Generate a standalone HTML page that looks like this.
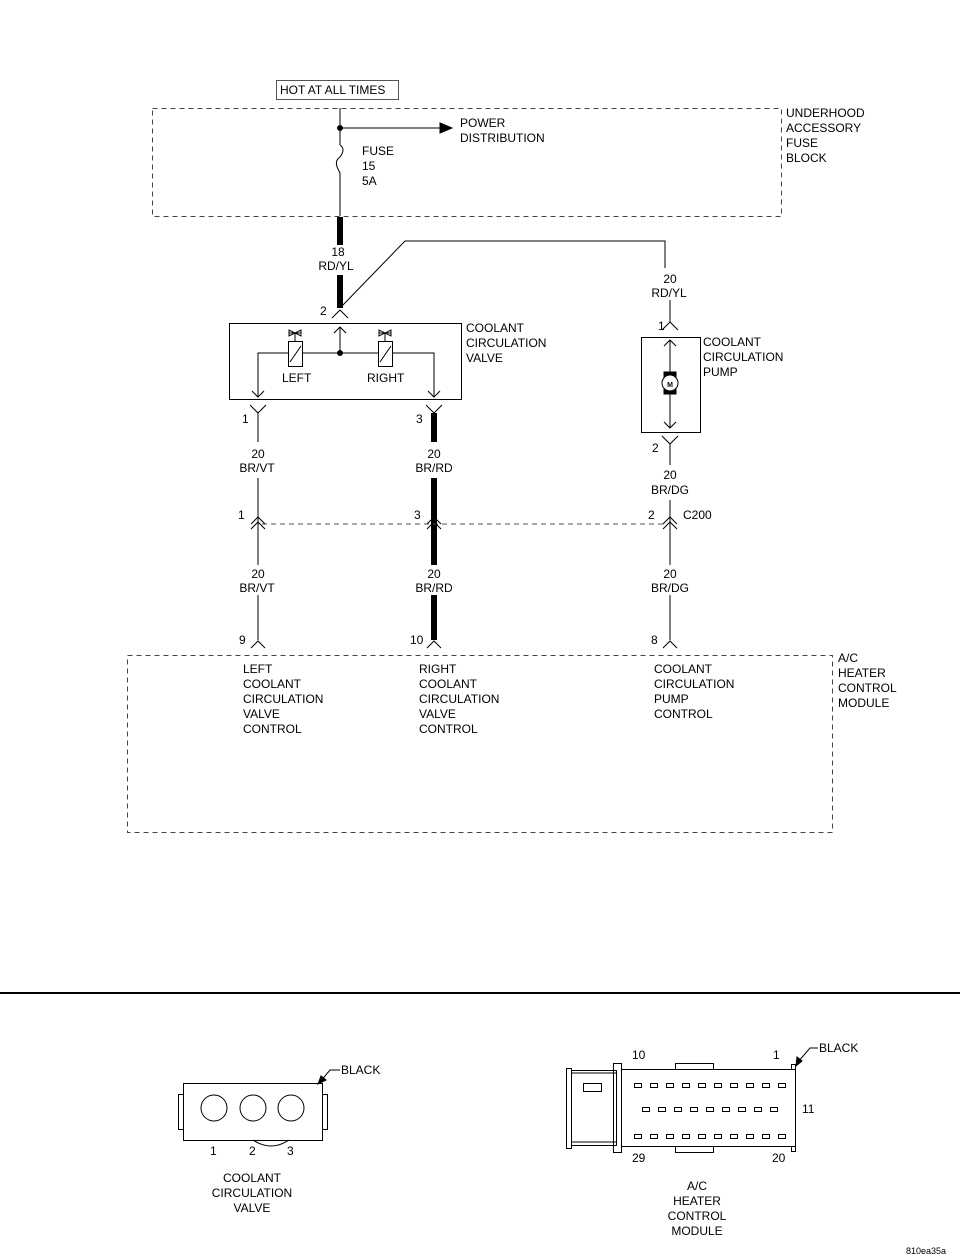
<!DOCTYPE html>
<html><head><meta charset="utf-8"><style>
html,body{margin:0;padding:0;background:#fff}
svg{display:block}
text{font-family:"Liberation Sans",sans-serif;font-size:12px;fill:#000}
</style></head><body>
<svg width="960" height="1258" viewBox="0 0 960 1258" xmlns="http://www.w3.org/2000/svg">
<g fill="none" stroke="#000" stroke-width="1">
<!-- top -->
<rect x="276.5" y="80.5" width="122" height="19" stroke="#555"/>
<rect x="152.5" y="108.5" width="629" height="108" stroke-dasharray="5,4" stroke="#444"/>
<line x1="340" y1="108" x2="340" y2="145"/>
<path d="M340 145 q6 4 0 12 q-6 4 -2 12 l2 4 v43"/>
<line x1="340" y1="128" x2="440" y2="128"/>
<polygon points="440,123 452,128 440,133" fill="#000"/>
<circle cx="340" cy="128" r="2.5" fill="#000"/>
<!-- thick wire 18 -->
<line x1="340" y1="217" x2="340" y2="245" stroke-width="6"/>
<line x1="340" y1="275" x2="340" y2="308" stroke-width="6"/>
<path d="M332 318 L340 310 L348 318"/>
<!-- diagonal to pump -->
<polyline points="342,306 405,241 665,241 665,268"/>
<line x1="670" y1="300" x2="670" y2="322"/>
<path d="M662 330 L670 322 L678 330"/>
<!-- valve box -->
<rect x="229.5" y="323.5" width="232" height="76"/>
<line x1="340" y1="327" x2="340" y2="353"/>
<path d="M334 333 L340 327 L346 333"/>
<circle cx="340" cy="353" r="2.5" fill="#000"/>
<polyline points="258,397 258,353 434,353 434,397"/>
<path d="M252 391 L258 397 L264 391 M428 391 L434 397 L440 391"/>
<rect x="288.5" y="341.5" width="14" height="25" fill="#fff"/>
<line x1="290" y1="362" x2="301" y2="346"/>
<rect x="378.5" y="341.5" width="14" height="25" fill="#fff"/>
<line x1="380" y1="362" x2="391" y2="346"/>
<path d="M289 330 l0 6 l12 -6 l0 6 z M289 333 h12 M295 333 v8"/>
<path d="M379 330 l0 6 l12 -6 l0 6 z M379 333 h12 M385 333 v8"/>
<!-- bottom valve connectors -->
<path d="M250 405 L258 413 L266 405 M426 405 L434 413 L442 405"/>
<line x1="258" y1="413" x2="258" y2="442"/>
<line x1="434" y1="413" x2="434" y2="442" stroke-width="6"/>
<line x1="258" y1="478" x2="258" y2="640"/>
<line x1="434" y1="478" x2="434" y2="640" stroke-width="6"/>
<!-- pump -->
<rect x="641.5" y="337.5" width="59" height="95"/>
<line x1="670" y1="340" x2="670" y2="428"/>
<path d="M664 346 L670 340 L676 346 M664 422 L670 428 L676 422"/>
<rect x="664" y="372" width="12" height="22" fill="#000"/>
<circle cx="670" cy="383" r="8" fill="#fff"/>
<path d="M662 436 L670 444 L678 436"/>
<line x1="670" y1="444" x2="670" y2="465"/>
<line x1="670" y1="500" x2="670" y2="640"/>
<!-- C200 -->
<line x1="262" y1="524" x2="666" y2="524" stroke-dasharray="5,4" stroke="#555"/>
<path d="M251 524 L258 517 L265 524 M251 529 L258 522 L265 529"/>
<path d="M427 524 L434 517 L441 524 M427 529 L434 522 L441 529"/>
<path d="M663 524 L670 517 L677 524 M663 529 L670 522 L677 529"/>
<rect x="252" y="565" width="12" height="30" fill="#fff" stroke="none"/>
<rect x="428" y="565" width="12" height="30" fill="#fff" stroke="none"/>
<rect x="664" y="565" width="12" height="30" fill="#fff" stroke="none"/>
<!-- pins bottom -->
<path d="M251 648 L258 641 L265 648 M427 648 L434 641 L441 648 M663 648 L670 641 L677 648"/>
<rect x="127.5" y="655.5" width="705" height="177" stroke-dasharray="5,4" stroke="#444"/>
<line x1="0" y1="993" x2="960" y2="993" stroke-width="2"/>
<!-- valve connector -->
<rect x="183.5" y="1083.5" width="139" height="57"/>
<rect x="178.5" y="1094.5" width="5" height="35"/>
<rect x="322.5" y="1094.5" width="5" height="35"/>
<circle cx="214" cy="1108" r="13"/>
<circle cx="253" cy="1108" r="13"/>
<circle cx="291" cy="1108" r="13"/>
<path d="M253 1140 q18 12 36 0"/>
<path d="M340 1070 h-10 l-10 12"/>
<polygon points="318,1084 321,1076 326,1080" fill="#000"/>
<!-- module connector -->
<rect x="566.5" y="1068.5" width="5" height="80"/>
<rect x="571.5" y="1070.5" width="45" height="75"/>
<line x1="571" y1="1073" x2="616" y2="1073"/>
<line x1="571" y1="1142" x2="616" y2="1142"/>
<rect x="583.5" y="1083.5" width="18" height="8"/>
<rect x="613.5" y="1063.5" width="8" height="89"/>
<rect x="621.5" y="1069.5" width="174" height="77"/>
<rect x="675.5" y="1063.5" width="38" height="6"/>
<rect x="675.5" y="1146.5" width="38" height="6"/>
<rect x="791.5" y="1064.5" width="4" height="5"/>
<rect x="791.5" y="1146.5" width="4" height="5"/>
<path d="M818 1048 h-8 l-12 14"/>
<polygon points="796,1066 797,1057 802,1061" fill="#000"/>
</g>
<g fill="none" stroke="#000" stroke-width="1">
<rect x="634.5" y="1083.5" width="7" height="4"/><rect x="650.5" y="1083.5" width="7" height="4"/><rect x="666.5" y="1083.5" width="7" height="4"/><rect x="682.5" y="1083.5" width="7" height="4"/><rect x="698.5" y="1083.5" width="7" height="4"/><rect x="714.5" y="1083.5" width="7" height="4"/><rect x="730.5" y="1083.5" width="7" height="4"/><rect x="746.5" y="1083.5" width="7" height="4"/><rect x="762.5" y="1083.5" width="7" height="4"/><rect x="778.5" y="1083.5" width="7" height="4"/>
<rect x="642.5" y="1107.5" width="7" height="4"/><rect x="658.5" y="1107.5" width="7" height="4"/><rect x="674.5" y="1107.5" width="7" height="4"/><rect x="690.5" y="1107.5" width="7" height="4"/><rect x="706.5" y="1107.5" width="7" height="4"/><rect x="722.5" y="1107.5" width="7" height="4"/><rect x="738.5" y="1107.5" width="7" height="4"/><rect x="754.5" y="1107.5" width="7" height="4"/><rect x="770.5" y="1107.5" width="7" height="4"/>
<rect x="634.5" y="1134.5" width="7" height="4"/><rect x="650.5" y="1134.5" width="7" height="4"/><rect x="666.5" y="1134.5" width="7" height="4"/><rect x="682.5" y="1134.5" width="7" height="4"/><rect x="698.5" y="1134.5" width="7" height="4"/><rect x="714.5" y="1134.5" width="7" height="4"/><rect x="730.5" y="1134.5" width="7" height="4"/><rect x="746.5" y="1134.5" width="7" height="4"/><rect x="762.5" y="1134.5" width="7" height="4"/><rect x="778.5" y="1134.5" width="7" height="4"/>
</g>
<text x="670" y="387" font-size="7" text-anchor="middle" style="font-size:7px;font-weight:bold">M</text>
<text x="280" y="94">HOT AT ALL TIMES</text>
<text x="460" y="127">POWER</text><text x="460" y="142">DISTRIBUTION</text>
<text x="362" y="155">FUSE</text><text x="362" y="170">15</text><text x="362" y="185">5A</text>
<text x="786" y="117">UNDERHOOD</text><text x="786" y="132">ACCESSORY</text><text x="786" y="147">FUSE</text><text x="786" y="162">BLOCK</text>
<g text-anchor="middle">
<text x="338" y="256">18</text><text x="336" y="270">RD/YL</text>
<text x="670" y="283">20</text><text x="669" y="297">RD/YL</text>
<text x="258" y="458">20</text><text x="257" y="472">BR/VT</text>
<text x="434" y="458">20</text><text x="434" y="472">BR/RD</text>
<text x="670" y="479">20</text><text x="670" y="494">BR/DG</text>
<text x="258" y="578">20</text><text x="257" y="592">BR/VT</text>
<text x="434" y="578">20</text><text x="434" y="592">BR/RD</text>
<text x="670" y="578">20</text><text x="670" y="592">BR/DG</text>
</g>
<text x="320" y="315">2</text>
<text x="658" y="330">1</text>
<text x="652" y="452">2</text>
<text x="242" y="423">1</text><text x="416" y="423">3</text>
<text x="238" y="519">1</text><text x="414" y="519">3</text><text x="648" y="519">2</text><text x="683" y="519">C200</text>
<text x="239" y="644">9</text><text x="410" y="644">10</text><text x="651" y="644">8</text>
<text x="466" y="332">COOLANT</text><text x="466" y="347">CIRCULATION</text><text x="466" y="362">VALVE</text>
<text x="282" y="382">LEFT</text><text x="367" y="382">RIGHT</text>
<text x="703" y="346">COOLANT</text><text x="703" y="361">CIRCULATION</text><text x="703" y="376">PUMP</text>
<text x="838" y="662">A/C</text><text x="838" y="677">HEATER</text><text x="838" y="692">CONTROL</text><text x="838" y="707">MODULE</text>
<text x="243" y="673">LEFT</text><text x="243" y="688">COOLANT</text><text x="243" y="703">CIRCULATION</text><text x="243" y="718">VALVE</text><text x="243" y="733">CONTROL</text>
<text x="419" y="673">RIGHT</text><text x="419" y="688">COOLANT</text><text x="419" y="703">CIRCULATION</text><text x="419" y="718">VALVE</text><text x="419" y="733">CONTROL</text>
<text x="654" y="673">COOLANT</text><text x="654" y="688">CIRCULATION</text><text x="654" y="703">PUMP</text><text x="654" y="718">CONTROL</text>
<text x="341" y="1074">BLACK</text>
<text x="210" y="1155">1</text><text x="249" y="1155">2</text><text x="287" y="1155">3</text>
<g text-anchor="middle"><text x="252" y="1182">COOLANT</text><text x="252" y="1197">CIRCULATION</text><text x="252" y="1212">VALVE</text>
<text x="697" y="1190">A/C</text><text x="697" y="1205">HEATER</text><text x="697" y="1220">CONTROL</text><text x="697" y="1235">MODULE</text></g>
<text x="819" y="1052">BLACK</text>
<text x="632" y="1059">10</text><text x="773" y="1059">1</text><text x="802" y="1113">11</text><text x="632" y="1162">29</text><text x="772" y="1162">20</text>
<text x="906" y="1254" style="font-size:9px">810ea35a</text>
</svg>
</body></html>
